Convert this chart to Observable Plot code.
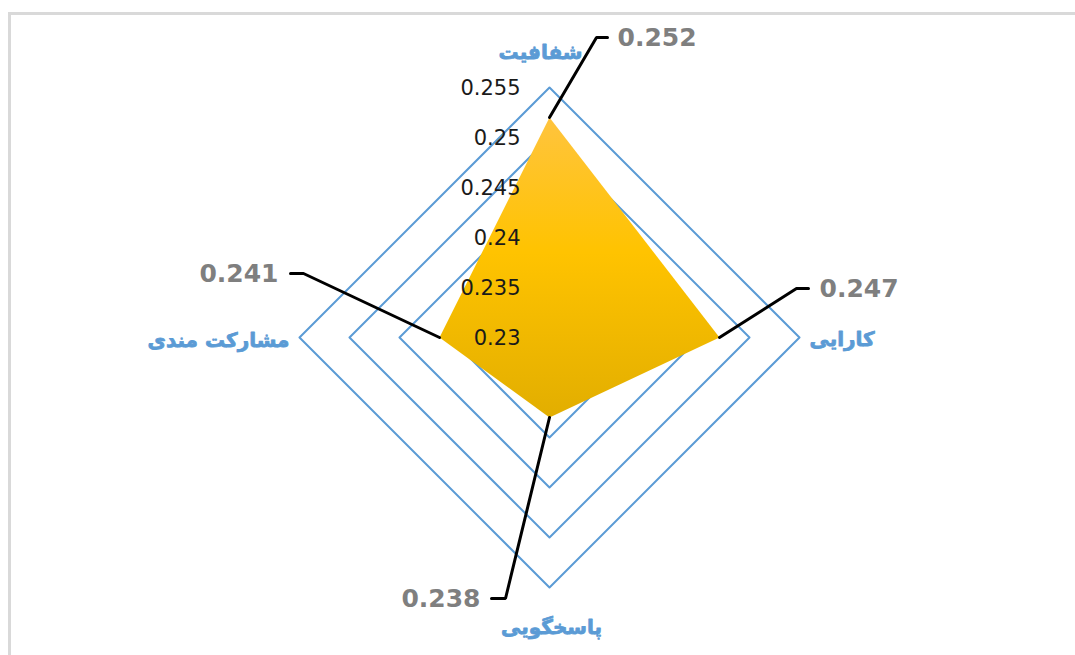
<!DOCTYPE html>
<html><head><meta charset="utf-8">
<script src="https://cdn.jsdelivr.net/npm/d3@7"></script>
<script src="https://cdn.jsdelivr.net/npm/@observablehq/plot@0.6"></script>
<style>
html,body{margin:0;padding:0;background:#fff;overflow:hidden;}
#wrap{position:relative;width:1075px;height:655px;overflow:hidden;}
#chart{position:absolute;left:0;top:0;}
#border{position:absolute;left:8px;top:12px;width:1200px;height:800px;border-top:3px solid #d9d9d9;border-left:3px solid #d9d9d9;pointer-events:none;}
</style></head><body>
<div id="wrap"><div id="chart"></div><div id="border"></div></div>
<script>
// ---- data ----
const categories = ["شفافیت", "کارایی", "پاسخگویی", "مشارکت مندی"];
const values = [0.252, 0.247, 0.238, 0.241];
const valueLabels = ["0.252", "0.247", "0.238", "0.241"];
const ticks = [0.23, 0.235, 0.24, 0.245, 0.25, 0.255];
const tickLabels = ["0.23", "0.235", "0.24", "0.245", "0.25", "0.255"];

// ---- layout ----
const W = 1075, H = 655;
const cx = 549, cy = 337, R = 250;            // centre and outer radius (px)
const rMin = ticks[0], rMax = ticks[ticks.length - 1];
const pxPer = R / (rMax - rMin);
// leader line elbow / end and label offsets in px, relative to each vertex
const leader = [
  {elbow: [47, -80], end: [58, -80], label: [68, -80], anchor: "start"},
  {elbow: [77, -49], end: [89, -49], label: [100, -49], anchor: "start"},
  {elbow: [-44, 181], end: [-58, 181], label: [-69, 181], anchor: "end"},
  {elbow: [-136, -64], end: [-149, -64], label: [-161, -64], anchor: "end"}
];
const catPlace = [
  {anchor: "middle", dx: -9, dy: -35},
  {anchor: "start", dx: 10, dy: 2},
  {anchor: "middle", dx: 2, dy: 40},
  {anchor: "end", dx: -10, dy: 3}
];

const pos = (i, v) => {
  const t = i * Math.PI / 2, r = v - rMin;
  return {x: r * Math.sin(t), y: r * Math.cos(t)};
};
const shift = (p, d) => ({x: p.x + d[0] / pxPer, y: p.y - d[1] / pxPer});

// grid rings
const rings = [];
ticks.slice(1).forEach(t => categories.forEach((c, i) => rings.push({ring: t, ...pos(i, t)})));
// data polygon
const poly = categories.map((c, i) => ({cat: c, ...pos(i, values[i])}));
// leader lines
const leaders = [];
categories.forEach((c, i) => {
  const v = pos(i, values[i]);
  leaders.push({k: i, ...v}, {k: i, ...shift(v, leader[i].elbow)}, {k: i, ...shift(v, leader[i].end)});
});
const vLabels = categories.map((c, i) => ({i, text: valueLabels[i], anchor: leader[i].anchor, ...shift(pos(i, values[i]), leader[i].label)}));
const cLabels = categories.map((c, i) => ({i, text: c, ...catPlace[i], ...pos(i, rMax)}));
const tLabels = ticks.map((t, i) => ({text: tickLabels[i], x: 0, y: t - rMin}));

const textMarks = (data, anchor, opts) =>
  Plot.text(data.filter(d => d.anchor === anchor), {x: "x", y: "y", text: "text", textAnchor: anchor, ...opts});

const catMarks = cLabels.map(d =>
  Plot.text([d], {x: "x", y: "y", text: "text", textAnchor: d.anchor, dx: d.dx, dy: d.dy,
    fill: "#5b9bd5", stroke: "#5b9bd5", strokeWidth: 0.8, fontSize: 20, fontWeight: "bold",
    fontFamily: "DejaVu Sans, sans-serif"}));

const chart = Plot.plot({
  width: W, height: H,
  margin: 0,
  style: {background: "none", overflow: "visible"},
  x: {axis: null, domain: [-cx / pxPer, (W - cx) / pxPer], range: [0, W]},
  y: {axis: null, domain: [-(H - cy) / pxPer, cy / pxPer], range: [H, 0]},
  marks: [
    Plot.line(rings, {x: "x", y: "y", z: "ring", curve: "linear-closed", stroke: "#5b9bd5", strokeWidth: 2}),
    Plot.line(poly, {x: "x", y: "y", curve: "linear-closed", fill: "url(#gold)", stroke: "none"}),
    Plot.line(leaders, {x: "x", y: "y", z: "k", stroke: "#000", strokeWidth: 3, strokeLinejoin: "miter"}),
    Plot.text(tLabels, {x: "x", y: "y", text: "text", textAnchor: "end", dx: -29, dy: 1,
      fill: "#1a1a1a", fontSize: 21, fontFamily: "DejaVu Sans, sans-serif"}),
    textMarks(vLabels, "start", {fill: "#7f7f7f", fontSize: 25, fontWeight: "bold", fontFamily: "DejaVu Sans, sans-serif"}),
    textMarks(vLabels, "end", {fill: "#7f7f7f", fontSize: 25, fontWeight: "bold", fontFamily: "DejaVu Sans, sans-serif"}),
    ...catMarks
  ]
});

d3.select(chart).insert("defs", ":first-child").html(
  `<linearGradient id="gold" x1="0" y1="0" x2="0" y2="1">
     <stop offset="0" stop-color="#ffc43e"/>
     <stop offset="0.45" stop-color="#ffc300"/>
     <stop offset="1" stop-color="#e2ae00"/>
   </linearGradient>`);
document.getElementById("chart").appendChild(chart);
</script>
</body></html>
